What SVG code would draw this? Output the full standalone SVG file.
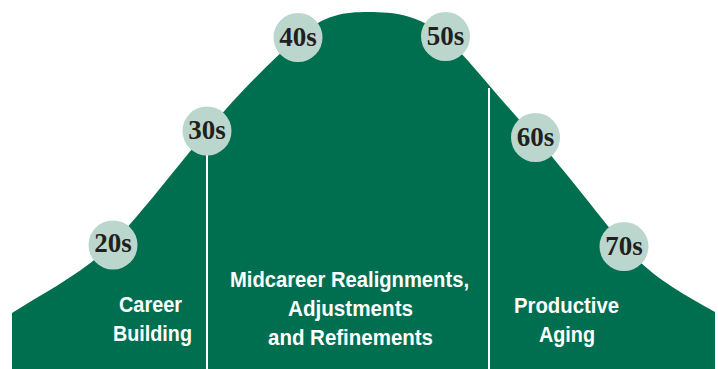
<svg xmlns="http://www.w3.org/2000/svg" width="718" height="369" viewBox="0 0 718 369">
<style>
.hill{fill:#006F50;}
.age circle{fill:#BBD7CD;}
.age text{font-family:"Liberation Serif",serif;font-weight:bold;font-size:27px;fill:#231F20;text-anchor:middle;}
.lbl{font-family:"Liberation Sans",Arial,sans-serif;font-weight:bold;font-size:22px;fill:#FFFFFF;text-anchor:middle;}
.div{stroke:#FFFFFF;stroke-width:2;}
</style>
<rect width="718" height="369" fill="#FFFFFF"/>
<g id="hill">
<path class="hill" d="M12,313 C45,292 85,272 113,243 C140,215 180,163 207,131 C240,92 270,62 298,37 C325,14 345,12 368,12 C395,12 420,15 445,37 C470,60 500,100 535,137 C560,165 595,210 624,246 C655,280 685,295 715,312 L715,369 L12,369 Z"/>
</g>
<g id="connectors">
<line class="div" x1="207" y1="150" x2="207" y2="369"/>
<line class="div" x1="489" y1="88" x2="489" y2="369"/>
</g>
<g id="age20" class="age"><circle cx="113" cy="245" r="24.5"/><text x="113" y="252">20s</text></g>
<g id="age30" class="age"><circle cx="207" cy="131" r="24.5"/><text x="207" y="139">30s</text></g>
<g id="age40" class="age"><circle cx="298" cy="37.5" r="24.5"/><text x="298" y="45.5">40s</text></g>
<g id="age50" class="age"><circle cx="445.5" cy="36.5" r="24.5"/><text x="445.5" y="44.5">50s</text></g>
<g id="age60" class="age"><circle cx="535.5" cy="137.5" r="24.5"/><text x="535.5" y="145.5">60s</text></g>
<g id="age70" class="age"><circle cx="624" cy="246.5" r="24.5"/><text x="624" y="254.5">70s</text></g>
<g id="career-building">
<text class="lbl" x="150.5" y="312" textLength="63" lengthAdjust="spacingAndGlyphs">Career</text>
<text class="lbl" x="152.5" y="341" textLength="79" lengthAdjust="spacingAndGlyphs">Building</text>
</g>
<g id="midcareer">
<text class="lbl" x="349.5" y="287" textLength="239" lengthAdjust="spacingAndGlyphs">Midcareer Realignments,</text>
<text class="lbl" x="350.5" y="316" textLength="125" lengthAdjust="spacingAndGlyphs">Adjustments</text>
<text class="lbl" x="350.5" y="345" textLength="165" lengthAdjust="spacingAndGlyphs">and Refinements</text>
</g>
<g id="productive-aging">
<text class="lbl" x="566.5" y="313" textLength="105" lengthAdjust="spacingAndGlyphs">Productive</text>
<text class="lbl" x="567" y="342" textLength="56" lengthAdjust="spacingAndGlyphs">Aging</text>
</g>
</svg>
